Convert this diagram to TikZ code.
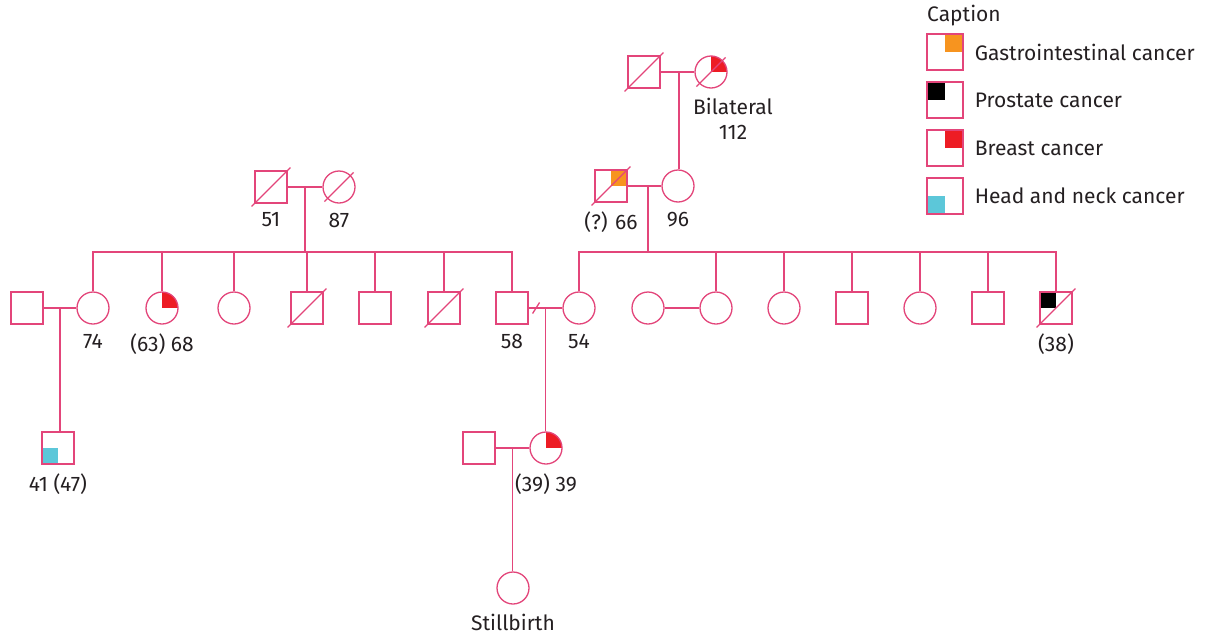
\documentclass[tikz,border=0pt]{standalone}
\usepackage{fontspec}
\setmainfont{Fira Sans}
\usepackage{tikz}
\usetikzlibrary{calc, positioning}
\definecolor{pedpink}{rgb}{0.89, 0.27, 0.48}
\definecolor{giorange}{rgb}{0.97, 0.58, 0.12}
\definecolor{brred}{rgb}{0.93, 0.11, 0.14}
\definecolor{hncyan}{rgb}{0.36, 0.78, 0.85}
\definecolor{textgray}{rgb}{0.14, 0.12, 0.13}

\begin{document}
\begin{tikzpicture}[x=1pt, y=-1pt,
		pedline/.style={draw=pedpink, line width=1.3pt},
		male/.style={pedline, fill=white, minimum size=32pt, inner sep=0pt},
		female/.style={male, circle},
		keybox/.style={pedline, fill=white, minimum size=36pt, inner sep=0pt},
		dead/.style={append after command={(\tikzlastnode.south west) edge[pedline, shorten <=-4pt, shorten >=-4pt] (\tikzlastnode.north east)}},
		ne/.style={path picture={\fill[#1] (path picture bounding box.center) rectangle (path picture bounding box.north east);}},
		nw/.style={path picture={\fill[#1] (path picture bounding box.center) rectangle (path picture bounding box.north west);}},
		sw/.style={path picture={\fill[#1] (path picture bounding box.center) rectangle (path picture bounding box.south west);}},
		lbl/.style={font=\fontsize{21}{25}\selectfont, text=textgray, inner sep=2pt, align=center},
		every label/.style={lbl},
		label distance=7pt
	]
	\useasboundingbox (0,0) rectangle (1217,635);

	% grandparents
	\node[male, dead] (gpa0) at (644,72) {};
	\node[female, dead, ne=brred, label={[xshift=22pt]below:Bilateral\\112}] (gma0) at (711,72) {};
	\node[male, dead, label=below:51] (gpa1) at (271,187) {};
	\node[female, dead, label=below:87] (gma1) at (339,187) {};
	\node[male, dead, ne=giorange, label=below:(?) 66] (gpa2) at (611,186) {};
	\node[female, label=below:96] (gma2) at (678,186) {};

	% left sibship
	\node[male] (a1) at (27,308) {};
	\node[female, label=below:74] (a2) at (93,308) {};
	\node[female, ne=brred, label=below:(63) 68] (a3) at (162,308) {};
	\node[female] (a4) at (234,308) {};
	\node[male, dead] (a5) at (307,308) {};
	\node[male] (a6) at (375,308) {};
	\node[male, dead] (a7) at (444,308) {};
	\node[male, label=below:58] (a8) at (512,308) {};

	% right sibship
	\node[female, label=below:54] (b1) at (579,308) {};
	\node[female] (b2) at (648,308) {};
	\node[female] (b3) at (716,308) {};
	\node[female] (b4) at (784,308) {};
	\node[male] (b5) at (852,308) {};
	\node[female] (b6) at (920,308) {};
	\node[male] (b7) at (988,308) {};
	\node[male, dead, nw=black, label=below:(38)] (b8) at (1056,308) {};

	% next generations
	\node[male, sw=hncyan, label=below:41 (47)] (c1) at (58,448) {};
	\node[male] (c2) at (479,448) {};
	\node[female, ne=brred, label=below:(39) 39] (c3) at (546,448) {};
	\node[female, label=below:Stillbirth] (d1) at (513,588) {};

	\coordinate (m0) at ($(gpa0)!0.52!(gma0)$);
	\coordinate (m1) at ($(gpa1)!0.5!(gma1)$);
	\coordinate (m2) at ($(gpa2)!0.55!(gma2)$);
	\coordinate (m3) at ($(a1)!0.5!(a2)$);
	\coordinate (m4) at ($(a8)!0.5!(b1)$);
	\coordinate (m5) at ($(c2)!0.5!(c3)$);
	\coordinate (bar1) at ($(m1)+(0,65)$);
	\coordinate (bar2) at ($(m2)+(0,66)$);

	% couples
	\draw[pedline] (gpa0) -- (gma0);
	\draw[pedline] (gpa1) -- (gma1);
	\draw[pedline] (gpa2) -- (gma2);
	\draw[pedline] (a1) -- (a2);
	\draw[pedline] (a8) -- (b1);
	\draw[pedline] (b2) -- (b3);
	\draw[pedline] (c2) -- (c3);
	\draw[pedline] ($(a8.east)!0.22!(b1.west)$) ++(-3.5,5.5) -- ++(7,-11);

	% lines of descent
	\draw[pedline] (m0) -- (m0 |- gma2.north);
	\draw[pedline] (m1) -- (bar1);
	\draw[pedline] (a2.north) |- (bar1) -| (a8.north);
	\foreach \k in {a3,a4,a5,a6,a7}
		\draw[pedline] (\k.north) -- (\k.north |- bar1);
	\draw[pedline] (m2) -- (bar2);
	\draw[pedline] (b1.north) |- (bar2) -| (b8.north);
	\foreach \k in {b3,b4,b5,b6,b7}
		\draw[pedline] (\k.north) -- (\k.north |- bar2);
	\draw[pedline] (m3) -- (m3 |- c1.north);
	\draw[pedline] (m4) -- (m4 |- c3.north);
	\draw[pedline] (m5) -- (m5 |- d1.north);

	% caption
	\node[lbl, anchor=west, inner sep=0pt] (cap) at (927,16) {Caption};
	\node[keybox, ne=giorange] (k1) at (945,52) {};
	\node[keybox, nw=black] (k2) at (945,100) {};
	\node[keybox, ne=brred] (k3) at (945,148) {};
	\node[keybox, sw=hncyan] (k4) at (945,196) {};
	\node[lbl, right=9pt of k1] {Gastrointestinal cancer};
	\node[lbl, right=9pt of k2] {Prostate cancer};
	\node[lbl, right=9pt of k3] {Breast cancer};
	\node[lbl, right=9pt of k4] {Head and neck cancer};
\end{tikzpicture}
\end{document}
